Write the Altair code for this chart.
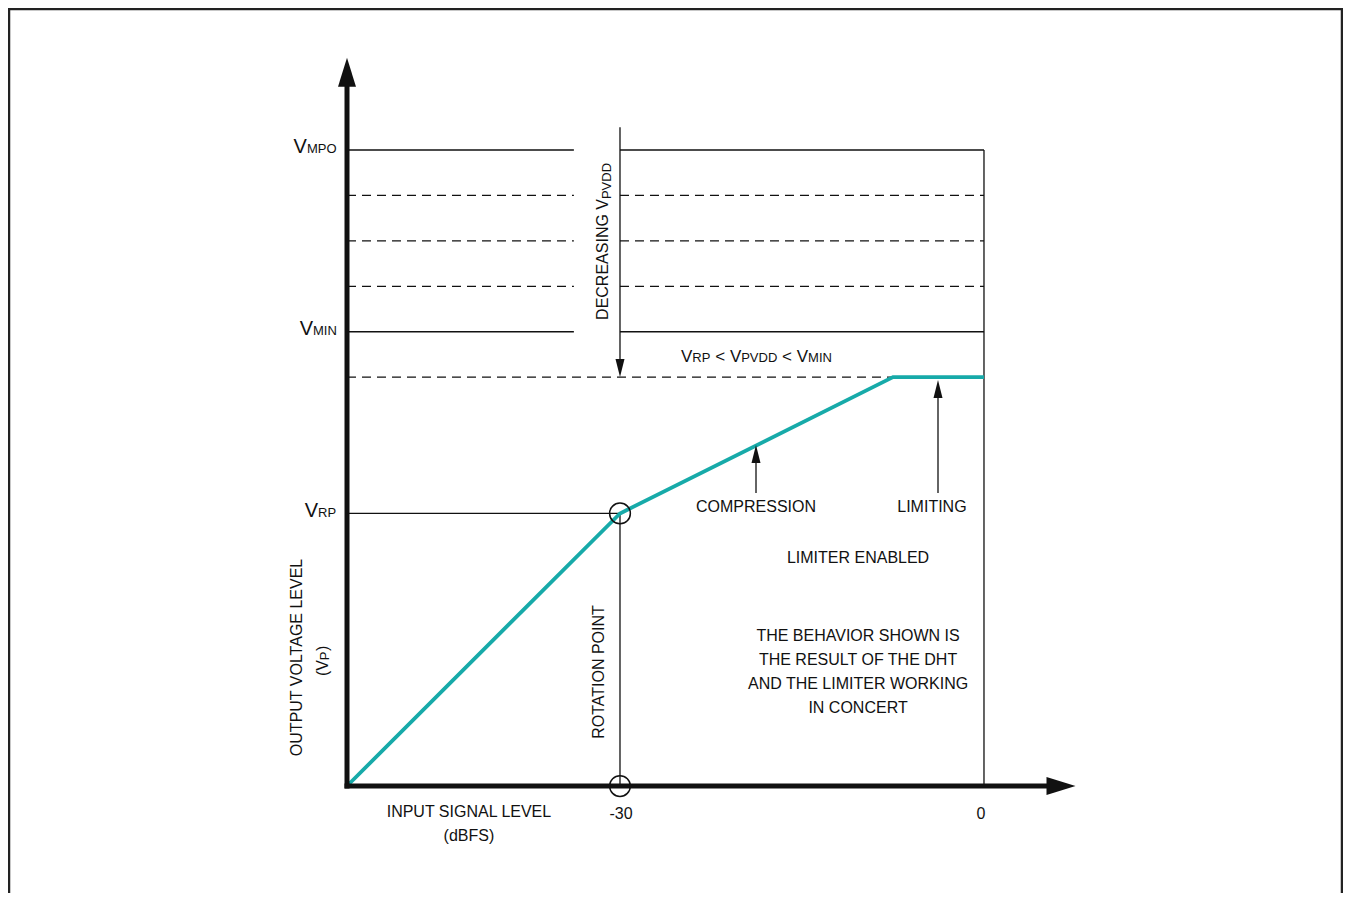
import altair as alt
import pandas as pd

# ---------------- data ----------------
# input level (dBFS) and output voltage level (arbitrary units)
curve_x = [-52.5, -30.0, -7.5, 0.0]
curve_y = [0.0, 6.0, 9.0, 9.0]

x_origin = -52.5      # left end of input axis
x_rot = -30.0         # rotation point
x_knee = -7.5         # limiter onset
x_full = 0.0          # 0 dBFS
x_gap = -33.8         # left level lines stop here (label column)

v_mpo = 14.0
v_steps = [13.0, 12.0, 11.0]
v_min = 10.0
v_limit = 9.0
v_rp = 6.0

x_compr = -18.79      # compression arrow position
x_limit = -3.79       # limiting arrow position

# ---------------- scales ----------------
xs = alt.Scale(domain=[-80.44, 29.59], nice=False, zero=False)
ys = alt.Scale(domain=[-2.355, 17.126], nice=False, zero=False)
X = alt.X("x:Q", scale=xs, axis=None)
Y = alt.Y("y:Q", scale=ys, axis=None)

FONT = "'Liberation Sans', Arial, Helvetica, sans-serif"
INK = "#111111"
TEAL = "#17aaa9"


def seg_df(rows):
    return pd.DataFrame(rows, columns=["x", "x2", "y", "y2"])


solid = seg_df([
    (x_origin, x_gap, v_mpo, v_mpo),
    (x_rot, x_full, v_mpo, v_mpo),
    (x_origin, x_gap, v_min, v_min),
    (x_rot, x_full, v_min, v_min),
    (x_origin, x_rot, v_rp, v_rp),
    (x_rot, x_rot, 0.0, v_rp),
    (x_full, x_full, 0.0, v_mpo),
    (x_rot, x_rot, 14.5, 9.2),
    (x_compr, x_compr, 6.45, 7.3),
    (x_limit, x_limit, 6.45, 8.74),
])

dashed_rows = []
for v in v_steps:
    dashed_rows.append((x_origin, x_gap, v, v))
    dashed_rows.append((x_rot, x_full, v, v))
dashed_rows.append((x_origin, x_knee, v_limit, v_limit))
dashed = seg_df(dashed_rows)

axes = seg_df([
    (x_origin, x_origin, 0.0, 15.6),
    (x_origin, 6.4, 0.0, 0.0),
])

heads = pd.DataFrame([
    (x_origin, 15.71, "M0,-1L0.62,1L-0.62,1Z", 841),
    (6.35, 0.0, "M1,0L-1,-0.62L-1,0.62Z", 841),
    (x_rot, 9.2, "M0,1L0.5,-1L-0.5,-1Z", 324),
    (x_compr, 7.31, "M0,-1L0.5,1L-0.5,1Z", 324),
    (x_limit, 8.74, "M0,-1L0.5,1L-0.5,1Z", 324),
], columns=["x", "y", "shape", "size"])

circles = pd.DataFrame({"x": [x_rot, x_rot], "y": [v_rp, 0.0]})
curve = pd.DataFrame({"x": curve_x, "y": curve_y, "o": list(range(len(curve_x)))})


def rules(df, width, dash=None, cap="butt"):
    kw = dict(color=INK, strokeWidth=width, strokeCap=cap)
    if dash:
        kw["strokeDash"] = dash
    return alt.Chart(df).mark_rule(**kw).encode(
        x=X, x2=alt.X2("x2:Q"), y=Y, y2=alt.Y2("y2:Q"))


def texts(rows, align, baseline, angle=0):
    df = pd.DataFrame(rows, columns=["x", "y", "label", "size"])
    return alt.Chart(df).mark_text(
        align=align, baseline=baseline, angle=angle, font=FONT, color=INK
    ).encode(x=X, y=Y, text="label:N", size=alt.Size("size:Q", scale=None))


# frame
one = pd.DataFrame({"k": [0]})
frame = alt.layer(
    alt.Chart(one).mark_rule(color="#222", strokeWidth=2.5).encode(
        x=alt.value(1), y=alt.value(0), y2=alt.value(885)),
    alt.Chart(one).mark_rule(color="#222", strokeWidth=2.5).encode(
        x=alt.value(0), x2=alt.value(1335), y=alt.value(1)),
    alt.Chart(one).mark_rule(color="#222", strokeWidth=2.5).encode(
        x=alt.value(1334), y=alt.value(0), y2=alt.value(885)),
)

line_layer = alt.Chart(curve).mark_line(color=TEAL, strokeWidth=3.8).encode(
    x=X, y=Y, order="o:Q")

head_layer = alt.Chart(heads).mark_point(filled=True, color=INK, opacity=1).encode(
    x=X, y=Y, shape=alt.Shape("shape:N", scale=None), size=alt.Size("size:Q", scale=None))

circle_layer = alt.Chart(circles).mark_point(
    shape="circle", size=430, filled=False, color=INK, strokeWidth=1.5, opacity=1
).encode(x=X, y=Y)

# level labels: big V right-aligned, subscript left-aligned
v_right = texts([
    (-55.80, 13.93, "V", 20),
    (-55.30, 9.93, "V", 20),
    (-54.89, 5.92, "V", 20),
], "right", "alphabetic")

left_pieces = texts([
    (-55.80, 13.93, "MPO", 13),
    (-55.30, 9.93, "MIN", 13),
    (-54.89, 5.92, "RP", 13),
    # V_RP < V_PVDD < V_MIN
    (-24.97, 9.33, "V", 17),
    (-24.04, 9.33, "RP", 13),
    (-22.15, 9.33, "<", 17),
    (-20.94, 9.33, "V", 17),
    (-20.01, 9.33, "PVDD", 13),
    (-16.64, 9.33, "<", 17),
    (-15.43, 9.33, "V", 17),
    (-14.50, 9.33, "MIN", 13),
], "left", "alphabetic")

centered = texts([
    (-18.79, 6.14, "COMPRESSION", 16),
    (-4.29, 6.14, "LIMITING", 16),
    (-10.38, 5.02, "LIMITER ENABLED", 16),
    (-10.38, 3.30, "THE BEHAVIOR SHOWN IS", 16),
    (-10.38, 2.77, "THE RESULT OF THE DHT", 16),
    (-10.38, 2.245, "AND THE LIMITER WORKING", 16),
    (-10.38, 1.717, "IN CONCERT", 16),
    (-42.45, -0.572, "INPUT SIGNAL LEVEL", 16),
    (-42.45, -1.10, "(dBFS)", 16),
    (-29.92, -0.616, "-30", 16),
    (-0.25, -0.616, "0", 16),
], "center", "middle")

rot_center = texts([
    (-31.32, 2.51, "ROTATION POINT", 16),
    (-56.21, 2.83, "OUTPUT VOLTAGE LEVEL", 16),
], "center", "alphabetic", angle=270)

rot_left = texts([
    (-31.0, 10.26, "DECREASING V", 16),
    (-30.78, 12.92, "PVDD", 13),
    (-54.07, 2.42, "(V", 16),
    (-53.95, 2.77, "P", 13),
    (-54.07, 2.97, ")", 16),
], "left", "alphabetic", angle=270)

chart = alt.layer(
    frame,
    rules(dashed, 1.3, dash=[9, 6]),
    rules(solid, 1.3),
    line_layer,
    rules(axes, 5, cap="square"),
    head_layer,
    circle_layer,
    v_right,
    left_pieces,
    centered,
    rot_center,
    rot_left,
).properties(
    width=1335, height=885, padding=0, autosize="none"
).configure_view(stroke=None).configure(background="white")

chart.save("out.html", embed_options={"renderer": "svg", "actions": False})
